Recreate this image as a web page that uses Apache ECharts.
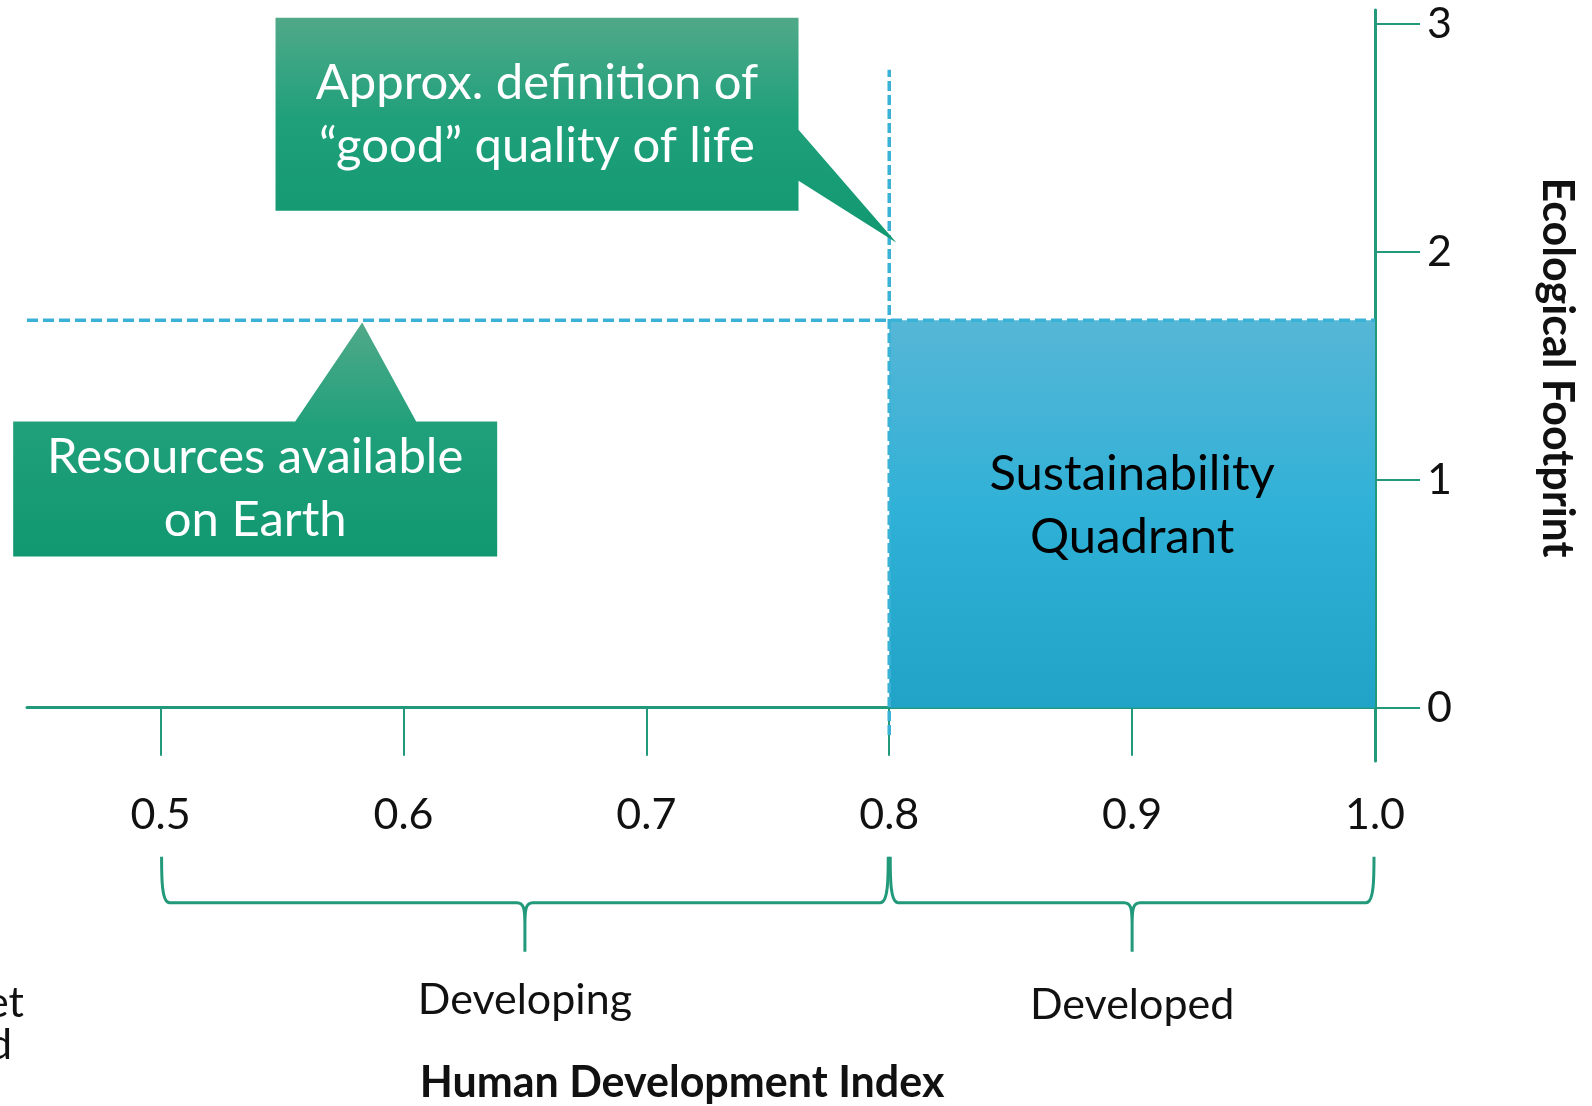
<!DOCTYPE html>
<html>
<head>
<meta charset="utf-8">
<script src="https://cdn.jsdelivr.net/npm/echarts@6/dist/echarts.min.js"></script>
<style>
  html, body { margin: 0; padding: 0; background: #fff; }
  #chart { width: 1592px; height: 1106px; }
</style>
</head>
<body>
<div id="chart"></div>
<script>
// values
const hdiTicks = [0.5, 0.6, 0.7, 0.8, 0.9, 1.0];
const footprintTicks = [0, 1, 2, 3];
const earthResources = [[0.445, 1.7], [1.0, 1.7]];
const goodLifeLine = [[0.8, -0.12], [0.8, 2.8]];
const quadrantCorners = [[0.8, 0], [1.0, 1.7]];
const quadrantName = 'Sustainability\nQuadrant';
const groupNames = ['Developing', 'Developed'];
const groupRanges = [[0.5, 0.8], [0.8, 1.0]];
const calloutTexts = ['Approx. definition of\n\u201cgood\u201d quality of life', 'Resources available\non Earth'];
const calloutTips = [[0.803, 2.04], [0.583, 1.69]];

const GREEN = '#21997a';
const BLUE = '#3ab1d6';
const FONT = 'Lato';

// callout box geometry in pixels, relative to the tip
const calloutLayout = [
  { box: [-621, -225, -98, -32], tail: 'right', base: [-113, -62] },
  { box: [-349, 99, 135, 234], tail: 'top', base: [-67, 54] }
];

const chart = echarts.init(document.getElementById('chart'));

function renderCallout(params, api) {
  const tip = api.coord([api.value(0), api.value(1)]);
  const lay = calloutLayout[params.dataIndex];
  const [l, t, r, b] = lay.box.map((v, i) => v + tip[i % 2]);
  let points;
  if (lay.tail === 'right') {
    points = [[l, t], [r, t], [r, tip[1] + lay.base[0]], tip, [r, tip[1] + lay.base[1]], [r, b], [l, b]];
  } else {
    points = [[l, t], [tip[0] + lay.base[0], t], tip, [tip[0] + lay.base[1], t], [r, t], [r, b], [l, b]];
  }
  return {
    type: 'group',
    children: [
      {
        type: 'polygon',
        shape: { points },
        style: {
          fill: new echarts.graphic.LinearGradient(0, 0, 0, 1, [
            { offset: 0, color: '#50a989' },
            { offset: 0.45, color: '#1fa07a' },
            { offset: 1, color: '#119871' }
          ])
        }
      },
      {
        type: 'text',
        style: {
          text: calloutTexts[params.dataIndex],
          x: (l + r) / 2,
          y: (t + b) / 2,
          align: 'center',
          verticalAlign: 'middle',
          fontSize: 49,
          lineHeight: 63,
          fontFamily: FONT,
          fill: '#fff'
        }
      }
    ]
  };
}

function renderBrace(params, api) {
  const a = api.coord([api.value(0), 0]);
  const b = api.coord([api.value(1), 0]);
  const y0 = a[1];
  const top = y0 + 149, h = y0 + 195, tip = y0 + 244;
  const x1 = a[0] + 1, x2 = b[0] - 1, m = (x1 + x2) / 2;
  const path =
    `M${x1} ${top} C${x1} ${h - 25} ${x1} ${h} ${x1 + 8} ${h} L${m - 8} ${h} ` +
    `C${m - 1} ${h} ${m} ${h + 6} ${m} ${h + 22} L${m} ${tip} ` +
    `M${m} ${h + 22} C${m} ${h + 6} ${m + 1} ${h} ${m + 8} ${h} L${x2 - 8} ${h} ` +
    `C${x2} ${h} ${x2} ${h - 25} ${x2} ${top}`;
  return {
    type: 'group',
    children: [
      { type: 'path', shape: { pathData: path }, style: { fill: 'none', stroke: GREEN, lineWidth: 3 } },
      {
        type: 'text',
        style: {
          text: groupNames[params.dataIndex],
          x: m,
          y: y0 + 292 + params.dataIndex * 5,
          align: 'center',
          verticalAlign: 'middle',
          fontSize: 43,
          fontFamily: FONT,
          fill: '#111'
        }
      }
    ]
  };
}

const option = {
  animation: false,
  backgroundColor: '#fff',
  grid: { left: 27, right: 217, top: 10, bottom: 345, containLabel: false, outerBoundsMode: 'none' },
  xAxis: {
    type: 'value',
    min: 0.445,
    max: 1.0,
    name: 'Human Development Index',
    nameLocation: 'middle',
    nameGap: 301,
    nameMoveOverlap: false,
    nameTextStyle: { fontSize: 43, fontWeight: 'bold', fontFamily: FONT, color: '#111', padding: [0, 38, 0, 0] },
    axisLine: { show: true, onZero: true, lineStyle: { color: GREEN, width: 3 } },
    axisTick: { show: true, length: 48, customValues: hdiTicks, lineStyle: { color: GREEN, width: 2 } },
    axisLabel: {
      customValues: hdiTicks,
      margin: 33,
      fontSize: 43,
      fontFamily: FONT,
      color: '#111',
      formatter: v => v.toFixed(1)
    },
    splitLine: { show: false }
  },
  yAxis: {
    type: 'value',
    position: 'right',
    min: -0.234,
    max: 3.062,
    name: 'Ecological Footprint',
    nameLocation: 'middle',
    nameRotate: -90,
    nameGap: 160,
    nameMoveOverlap: false,
    nameTextStyle: { fontSize: 43, fontWeight: 'bold', fontFamily: FONT, color: '#111', padding: [0, 36, 0, 0] },
    axisLine: { show: true, onZero: false, lineStyle: { color: GREEN, width: 3 } },
    axisTick: { show: true, length: 45, customValues: footprintTicks, lineStyle: { color: GREEN, width: 2 } },
    axisLabel: {
      customValues: footprintTicks,
      margin: 52,
      fontSize: 43,
      fontFamily: FONT,
      color: '#111'
    },
    splitLine: { show: false }
  },
  series: [
    {
      name: 'Sustainability Quadrant',
      type: 'line',
      data: [],
      z: 1,
      markArea: {
        silent: true,
        itemStyle: {
          color: new echarts.graphic.LinearGradient(0, 0, 0, 1, [
            { offset: 0, color: '#56b6d6' },
            { offset: 0.5, color: '#2fb1d7' },
            { offset: 1, color: '#20a3c6' }
          ])
        },
        label: {
          show: true,
          position: 'inside',
          offset: [0, -8],
          formatter: quadrantName,
          fontSize: 49,
          lineHeight: 63,
          fontFamily: FONT,
          color: '#000'
        },
        data: [[{ coord: quadrantCorners[0] }, { coord: quadrantCorners[1] }]]
      }
    },
    {
      name: 'Resources available on Earth',
      type: 'line',
      data: earthResources,
      symbol: 'none',
      clip: false,
      z: 3,
      lineStyle: { color: BLUE, width: 3.5, type: [11, 5] }
    },
    {
      name: 'Good quality of life',
      type: 'line',
      data: goodLifeLine,
      symbol: 'none',
      clip: false,
      z: 3,
      lineStyle: { color: BLUE, width: 3.5, type: [10, 4] }
    },
    {
      name: 'Callouts',
      type: 'custom',
      data: calloutTips,
      clip: false,
      z: 4,
      renderItem: renderCallout
    },
    {
      name: 'Groups',
      type: 'custom',
      data: groupRanges,
      clip: false,
      z: 4,
      renderItem: renderBrace
    }
  ],
  graphic: [
    {
      type: 'text',
      right: 1568,
      top: 982,
      style: { text: 'et', fontSize: 43, fontFamily: FONT, fill: '#111' }
    },
    {
      type: 'text',
      right: 1580,
      top: 1024,
      style: { text: 'd', fontSize: 43, fontFamily: FONT, fill: '#111' }
    }
  ]
};

chart.setOption(option);
window.addEventListener('resize', () => chart.resize());
</script>
</body>
</html>
